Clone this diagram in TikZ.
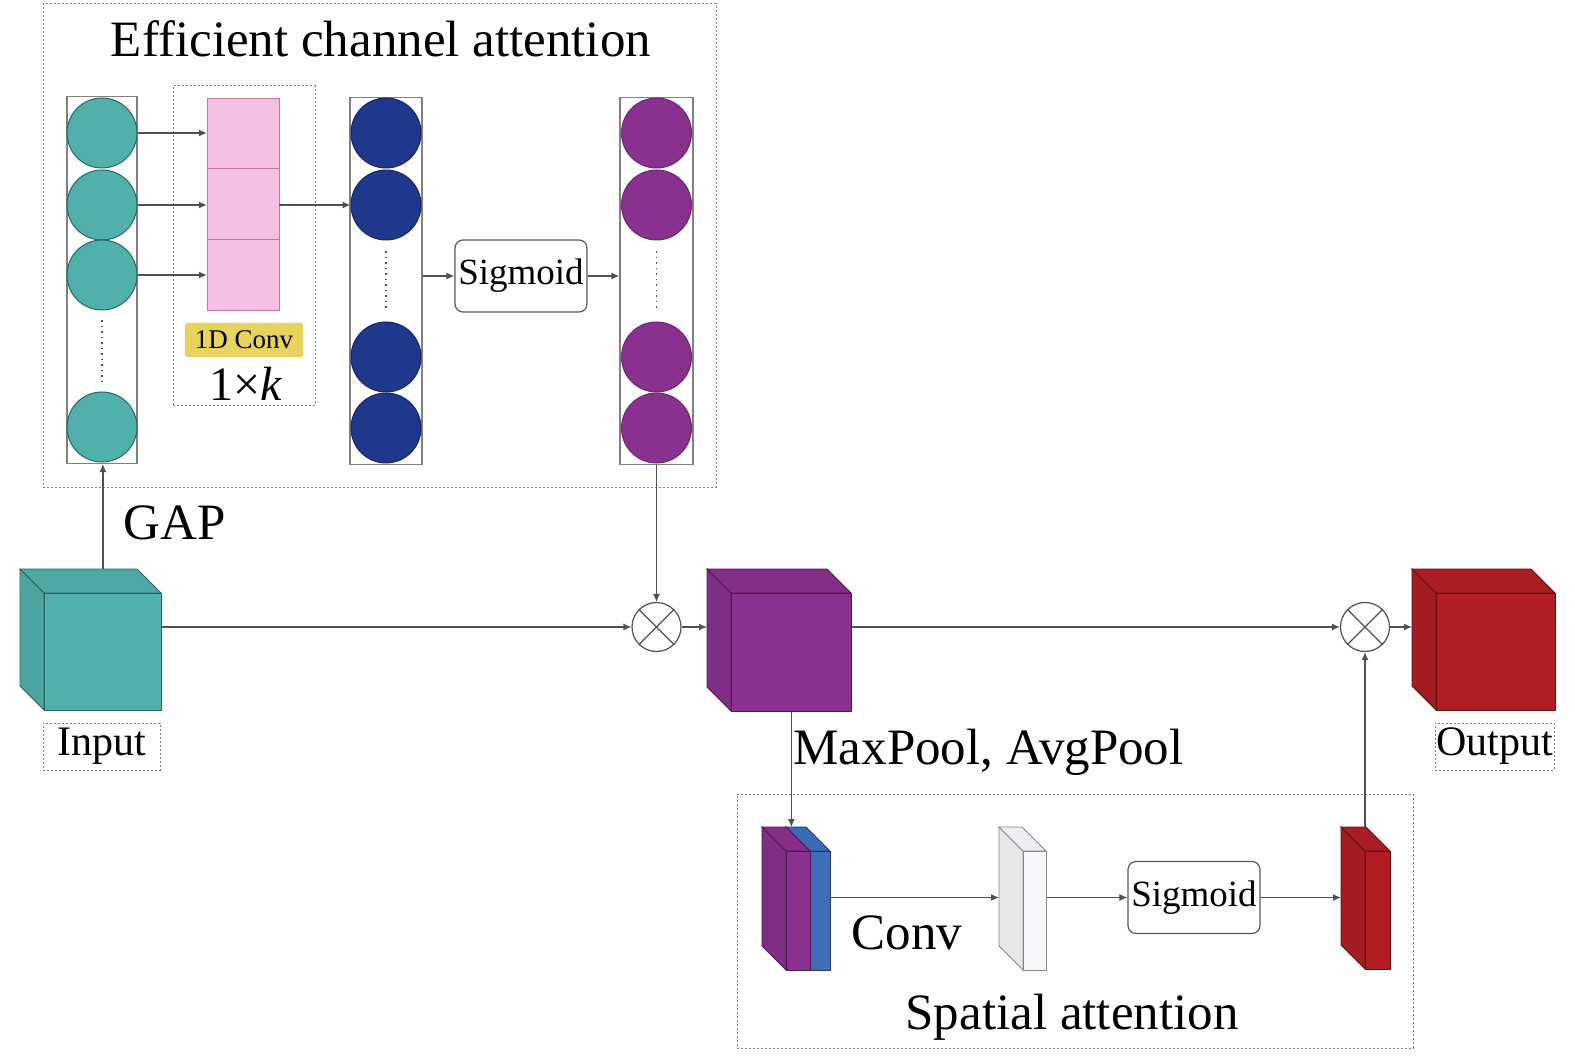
\documentclass[tikz,border=0pt]{standalone}
\usepackage{fontspec}
\setmainfont{Liberation Serif}
\definecolor{tealc}{RGB}{82,176,170}
\definecolor{tealline}{RGB}{35,105,105}
\definecolor{navyc}{RGB}{32,56,140}
\definecolor{purplec}{RGB}{138,48,142}
\definecolor{pinkc}{RGB}{246,192,226}
\definecolor{pinkline}{RGB}{196,120,160}
\definecolor{yellowc}{RGB}{232,212,92}
\definecolor{redc}{RGB}{176,30,36}
\definecolor{bluec}{RGB}{62,110,186}
\definecolor{whitec}{RGB}{246,248,251}
\definecolor{linec}{RGB}{80,80,80}
\usetikzlibrary{positioning,shapes,arrows.meta,calc}

% name, x, y (back top-left corner), width, height, colour, depth
\newcommand{\drawbox}[7]{%
  \coordinate (#1b) at (#2,#3);
  \filldraw[fill=#6!93!black, draw=#6!55!black, line width=0.8] (#1b) -- ++(#7,#7) -- ++(0,#5) -- ++(-#7,-#7) -- cycle;
  \filldraw[fill=#6!96!black, draw=#6!55!black, line width=0.8] (#1b) -- ++(#4,0) -- ++(#7,#7) -- ++(-#4,0) -- cycle;
  \node[draw=#6!55!black, fill=#6, line width=0.8, minimum width=#4, minimum height=#5, inner sep=0, anchor=north west] (#1) at ($(#1b)+(#7,#7)$) {};
}

\begin{document}
\begin{tikzpicture}[x=1pt, y=-1pt, >={Latex[length=8pt,width=7pt]},
    conn/.style={draw=linec, line width=1.2, ->},
    dashbox/.style={draw=gray, dash pattern=on 2pt off 2pt, line width=1, inner sep=0},
    column/.style={draw=gray, line width=1.2, fill=white, minimum width=#1, minimum height=367, inner sep=0},
    ball/.style={circle, line width=1, minimum size=70, inner sep=0},
    cell/.style={draw=pinkline, fill=pinkc, line width=1, minimum width=72, minimum height=70.7, inner sep=0, outer sep=0},
    sigbox/.style={draw=gray!70!black, fill=white, rounded corners=8, line width=1.2, minimum width=132, minimum height=72, inner sep=0, font=\fontsize{37}{40}\selectfont},
    otimes/.style={circle, draw=linec, fill=white, line width=1.2, minimum size=49, inner sep=0},
    dots/.style={draw=linec, line width=1.5, dash pattern=on 1.5pt off 4pt},
    bigtext/.style={font=\fontsize{51}{58}\selectfont}]
    \useasboundingbox (0,0) rectangle (1575,1059);

    % efficient channel attention
    \node[dashbox, minimum width=673, minimum height=483] (ecabox) at (379.5,245.5) {};
    \node[bigtext, anchor=base] (ecatitle) at (381,57) {Efficient channel attention};

    \node[column=70] (tcol) at (102,280) {};
    \foreach \n/\y in {1/133,2/205,3/275,4/427}
        \node[ball, fill=tealc, draw=tealline] (t\n) at (102,\y) {};
    \draw[dots] ([yshift=-10pt]t3.south) -- ([yshift=10pt]t4.north);

    \node[dashbox, minimum width=142, minimum height=319] (convbox) at (244,245.5) {};
    \node[cell] (cella) at (243,133.5) {};
    \node[cell, below=0pt of cella] (cellb) {};
    \node[cell, below=0pt of cellb] (cellc) {};
    \node[fill=yellowc, rounded corners=2, minimum width=118, minimum height=34, inner sep=0, font=\fontsize{27}{30}\selectfont] (convtag) at (244,340) {1D Conv};
    \node[font=\fontsize{48}{50}\selectfont, anchor=base] (kernel) at (246,400) {1×\textit{k}};

    \node[column=72] (bcol) at (386,281) {};
    \foreach \n/\y in {1/133,2/205,3/357,4/428}
        \node[ball, fill=navyc, draw=navyc!70!black] (b\n) at (386,\y) {};
    \draw[dots] ([yshift=-11pt]b2.south) -- ([yshift=11pt]b3.north);

    \node[sigbox] (sig1) at (521,276) {Sigmoid};

    \node[column=73] (pcol) at (656.5,281) {};
    \foreach \n/\y in {1/133,2/205,3/357,4/428}
        \node[ball, fill=purplec, draw=purplec!80!black] (p\n) at (656.5,\y) {};
    \draw[dots] ([yshift=-11pt]p2.south) -- ([yshift=11pt]p3.north);

    \foreach \n in {1,2,3}
        \draw[conn] (t\n.east) -- (t\n -| cella.west);
    \draw[conn] (cellb.east |- b2) -- (b2.west);
    \draw[conn] (bcol.east |- sig1) -- (sig1.west);
    \draw[conn] (sig1.east) -- (sig1 -| pcol.west);

    % main path
    \drawbox{inp}{20}{569}{117}{117}{tealc}{24}
    \drawbox{pcube}{707}{569}{120}{118}{purplec}{24}
    \drawbox{outc}{1412}{569}{119}{117}{redc}{24}
    \node[otimes] (ot1) at (656.5,627) {};
    \node[otimes] (ot2) at (1365,627) {};
    \draw[linec, line width=1.2] (ot1.45) -- (ot1.225) (ot1.135) -- (ot1.315);
    \draw[linec, line width=1.2] (ot2.45) -- (ot2.225) (ot2.135) -- (ot2.315);

    \node[dashbox, minimum width=117, minimum height=47, font=\fontsize{42}{44}\selectfont] (inplbl) at (101.5,746.5) {Input};
    \node[dashbox, minimum width=119, minimum height=47, font=\fontsize{42}{44}\selectfont] (outlbl) at (1494.5,746.5) {Output};
    \node[bigtext, anchor=base west] (gaplbl) at (120,539) {GAP};
    \node[bigtext, anchor=base west] (poollbl) at (790,764) {MaxPool, AvgPool};

    \draw[conn] (inp.north |- inpb) -- (inp.north |- tcol.south);
    \draw[conn] (pcol.south) -- (ot1.north);
    \draw[conn] (inp.east |- ot1) -- (ot1.west);
    \draw[conn] (ot1.east) -- (pcubeb |- ot1);
    \draw[conn] (pcube.east |- ot2) -- (ot2.west);
    \draw[conn] (ot2.east) -- (outcb |- ot2);

    % spatial attention
    \node[dashbox, minimum width=676, minimum height=254] (sabox) at (1075,921) {};
    \node[bigtext, anchor=base] (satitle) at (1072,1029) {Spatial attention};
    \drawbox{bsl}{786}{827}{20}{119}{bluec}{24}
    \drawbox{psl}{762}{827}{24}{119}{purplec}{24}
    \drawbox{wsl}{999}{827}{23}{119}{whitec}{24}
    \drawbox{rsl}{1341}{827}{25}{118}{redc}{24}
    \node[sigbox] (sig2) at (1194,897.5) {Sigmoid};
    \node[bigtext, anchor=base west] (convlbl) at (848,949) {Conv};

    \draw[conn] (pcube.south) -- (pcube.south |- bslb);
    \draw[conn] (bsl.east |- sig2) -- (wslb |- sig2);
    \draw[conn] (wsl.east |- sig2) -- (sig2.west);
    \draw[conn] (sig2.east) -- (rslb |- sig2);
    \draw[conn] (ot2 |- rslb) -- (ot2.south);
\end{tikzpicture}
\end{document}
